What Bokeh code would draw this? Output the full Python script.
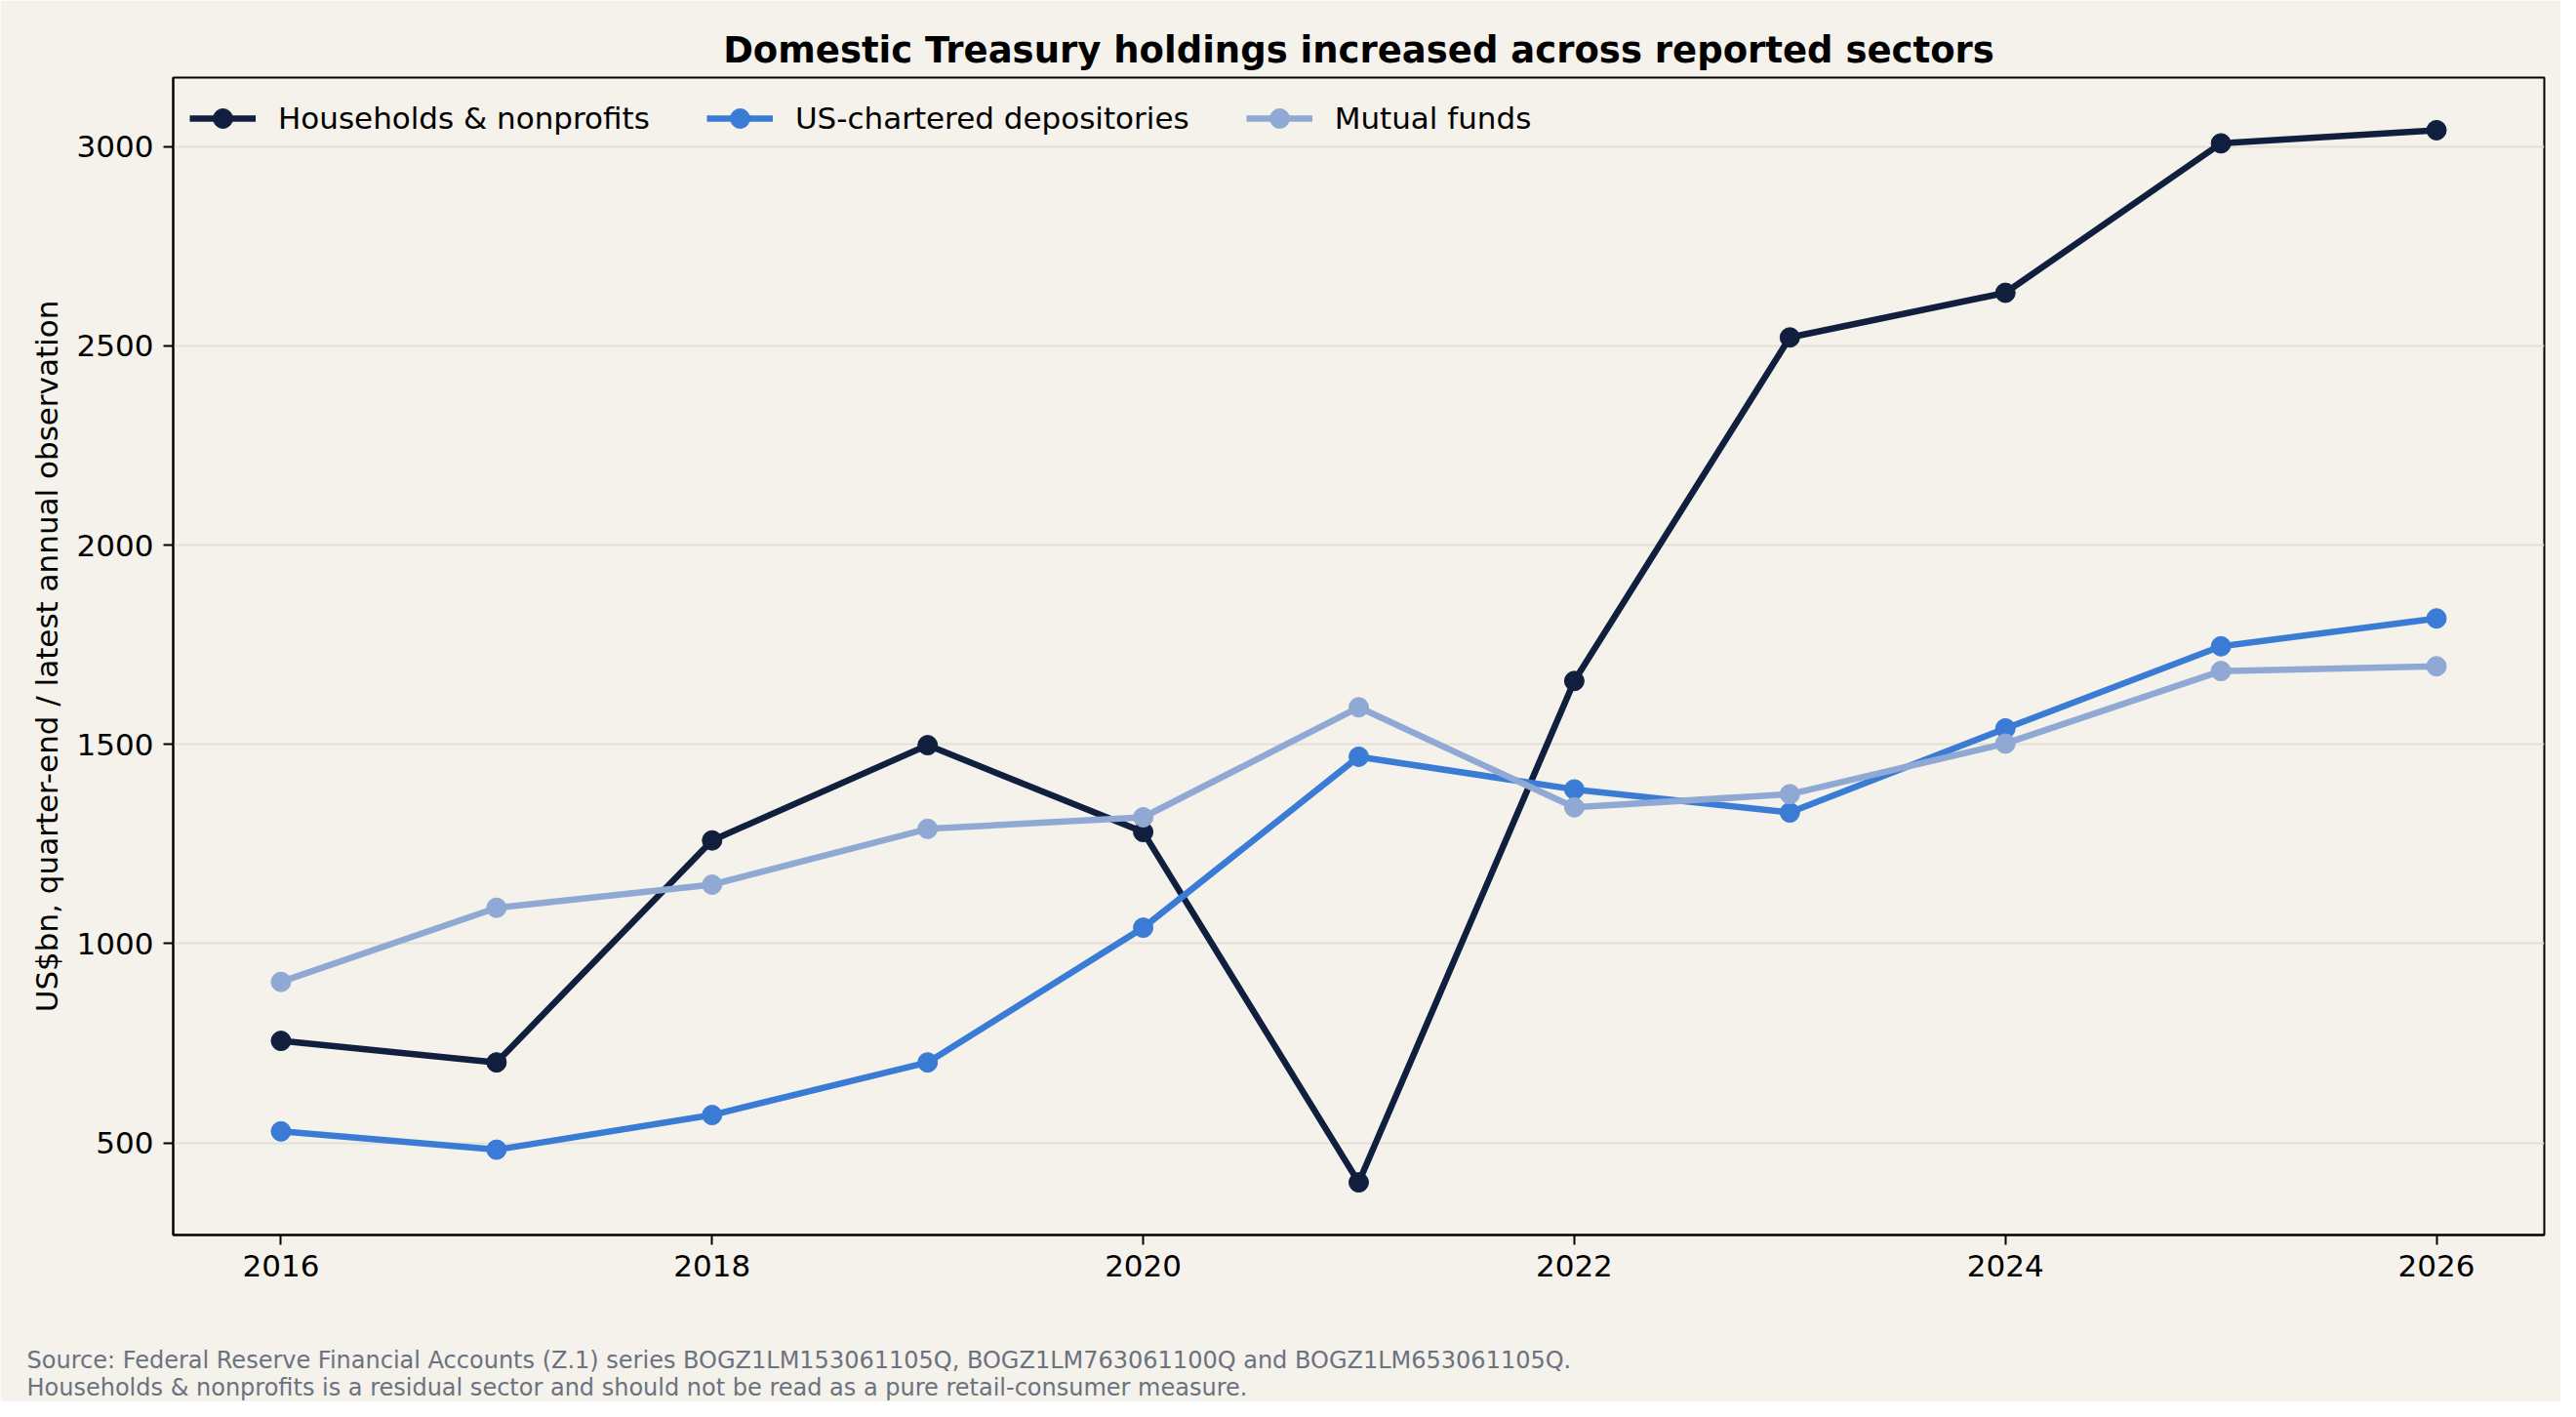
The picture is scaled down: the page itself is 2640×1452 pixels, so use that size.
from bokeh.plotting import figure
from bokeh.models import Range1d, FixedTicker, Legend, LegendItem, Title
from bokeh.embed import file_html
from bokeh.resources import INLINE

years = [2016, 2017, 2018, 2019, 2020, 2021, 2022, 2023, 2024, 2025, 2026]
households = [756, 702, 1259, 1498, 1280, 401, 1659, 2521, 2633, 3008, 3041]
depositories = [529, 483, 570, 702, 1040, 1469, 1387, 1329, 1540, 1746, 1816]
mutual_funds = [904, 1090, 1148, 1288, 1317, 1593, 1342, 1375, 1502, 1684, 1696]

series_names = ["Households & nonprofits", "US-chartered depositories", "Mutual funds"]
series_colors = ["#0F1F3D", "#3A7BD5", "#8FA9D4"]
x_ticks = [2016, 2018, 2020, 2022, 2024, 2026]
y_ticks = [500, 1000, 1500, 2000, 2500, 3000]

title_text = "Domestic Treasury holdings increased across reported sectors"
y_label = "US$bn, quarter-end / latest annual observation"
source_lines = [
    "Source: Federal Reserve Financial Accounts (Z.1) series BOGZ1LM153061105Q, BOGZ1LM763061100Q and BOGZ1LM653061105Q.",
    "Households & nonprofits is a residual sector and should not be read as a pure retail-consumer measure.",
]

BG = "#F5F1EB"
FONT = "DejaVu Sans"

p = figure(width=2624, height=1436, output_backend="svg", toolbar_location=None,
           x_range=Range1d(2015.5, 2026.5), y_range=Range1d(269, 3173),
           min_border_left=177, min_border_right=17, min_border_top=79, min_border_bottom=171)
p.background_fill_color = BG
p.border_fill_color = BG
p.outline_line_color = "black"
p.outline_line_width = 2

p.title.text = title_text
p.title.text_font = FONT
p.title.text_font_size = "37px"
p.title.text_font_style = "bold"
p.title.align = "center"
p.title.text_color = "black"
p.title.standoff = 14

for ax in (p.xaxis[0], p.yaxis[0]):
    ax.major_label_text_font = FONT
    ax.major_label_text_font_size = "31px"
    ax.major_label_text_color = "black"
    ax.axis_line_color = "black"
    ax.axis_line_width = 2
    ax.major_tick_line_color = "black"
    ax.major_tick_line_width = 2
    ax.major_tick_out = 10
    ax.major_tick_in = 0
    ax.minor_tick_line_color = None
    ax.major_label_standoff = 10

p.xaxis[0].ticker = FixedTicker(ticks=x_ticks)
p.yaxis[0].ticker = FixedTicker(ticks=y_ticks)
p.yaxis[0].axis_label = y_label
p.yaxis[0].axis_label_text_font = FONT
p.yaxis[0].axis_label_text_font_size = "31px"
p.yaxis[0].axis_label_text_font_style = "normal"
p.yaxis[0].axis_label_text_color = "black"
p.yaxis[0].axis_label_standoff = 10

p.xgrid.grid_line_color = None
p.ygrid.grid_line_color = "#E3DFD9"
p.ygrid.grid_line_width = 2

items = []
for name, vals, col in zip(series_names, [households, depositories, mutual_funds], series_colors):
    r1 = p.line(years, vals, line_color=col, line_width=6.5)
    r2 = p.scatter(years, vals, size=20, fill_color=col, line_color=col)
    items.append(LegendItem(label=name, renderers=[r1, r2]))

legend = Legend(items=items, orientation="horizontal", location="top_left",
                background_fill_alpha=0, border_line_color=None,
                label_text_font=FONT, label_text_font_size="31px", label_text_color="black",
                glyph_width=68, glyph_height=50, label_height=50,
                label_standoff=23, spacing=58, padding=14, margin=17)
p.add_layout(legend, "center")

# spacer between the x axis and the source notes
spacer = Title(text=" ", text_font=FONT, text_font_size="2px", standoff=63)
p.add_layout(spacer, "below")
src = Title(text="\n".join(source_lines), text_font=FONT, text_font_size="24px",
            text_font_style="normal", text_line_height=1.03,
            text_color="#6B7280", align="left", standoff=0, offset=-150)
p.add_layout(src, "below")

open("out.html", "w").write(file_html(p, INLINE))
